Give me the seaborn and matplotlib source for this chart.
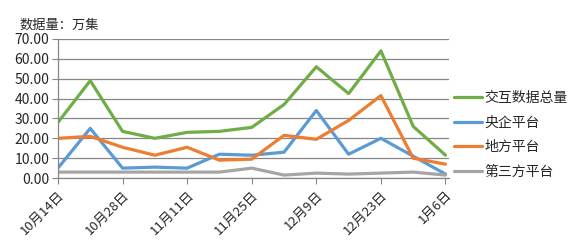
import matplotlib.pyplot as plt
import pandas as pd
import seaborn as sns

# data (unit: 万集)
dates = ["10月14日", "10月21日", "10月28日", "11月4日", "11月11日", "11月18日", "11月25日",
         "12月2日", "12月9日", "12月16日", "12月23日", "12月30日", "1月6日"]
total = [28, 49, 23.5, 20, 23, 23.5, 25.5, 37, 56, 42.5, 64, 26, 11.5]
central = [5, 25, 5, 5.5, 5, 12, 11.5, 13, 34, 12, 20, 11, 2]
local = [20, 21, 15.5, 11.5, 15.5, 9, 9.5, 21.5, 19.5, 29, 41.5, 10, 7]
third = [3, 3, 3, 3, 3, 3, 5, 1.5, 2.5, 2, 2.5, 3, 1.5]

series_names = ["交互数据总量", "央企平台", "地方平台", "第三方平台"]
colors = ["#70AD47", "#5B9BD5", "#ED7D31", "#A5A5A5"]


def main():
    rows = []
    for name, vals in zip(series_names, [total, central, local, third]):
        for i, v in enumerate(vals):
            rows.append({"idx": i, "value": v, "series": name})
    df = pd.DataFrame(rows)

    sns.set_style("white")
    plt.rcParams['font.family'] = ['Noto Sans CJK SC', 'DejaVu Sans']

    fig = plt.figure(figsize=(5.68, 2.48), dpi=100)
    ax = fig.add_axes([0.102, 0.282, 0.688, 0.561])
    sns.lineplot(data=df, x="idx", y="value", hue="series", hue_order=series_names,
                 palette=colors, linewidth=2.3, ax=ax, legend=True)

    ax.set_xlim(0, 12.1)
    ax.set_ylim(0, 70)
    ax.set_yticks(range(0, 71, 10))
    ax.set_yticklabels([f"{v:.2f}" for v in range(0, 71, 10)], fontsize=10)
    ax.yaxis.grid(True, color="#868686", linewidth=0.9)
    ax.set_axisbelow(True)

    ax.set_xticks(range(0, 13, 2))
    ax.set_xticklabels(dates[::2], rotation=45, ha="right", rotation_mode="anchor", fontsize=9.5)
    ax.tick_params(axis="x", length=4, color="#868686", direction="out", bottom=True)
    ax.tick_params(axis="y", length=4, color="#868686", direction="out", left=True, pad=2)
    ax.set_xlabel("")
    ax.set_ylabel("")

    for s in ["top", "right"]:
        ax.spines[s].set_visible(False)
    for s in ["left", "bottom"]:
        ax.spines[s].set_color("#868686")
        ax.spines[s].set_linewidth(0.9)

    fig.text(0.035, 0.885, "数据量：万集", fontsize=9.5)

    leg = ax.legend(loc="center left", bbox_to_anchor=(0.982, 0.31), frameon=False,
                    fontsize=10, handlelength=2.0, handletextpad=0.2, labelspacing=0.75)
    for h in leg.get_lines():
        h.set_linewidth(2.3)

    fig.savefig("out.png", dpi=100)


if __name__ == '__main__':
    main()
